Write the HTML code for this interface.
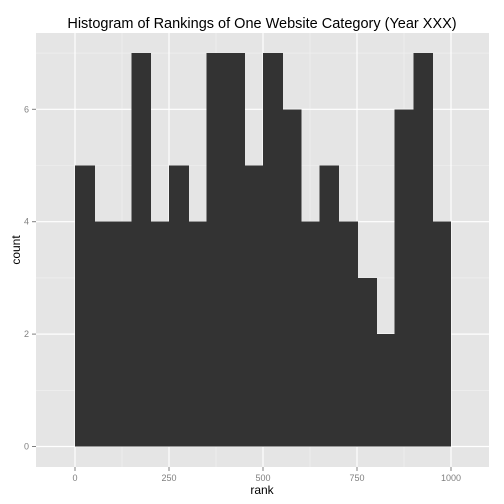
<!DOCTYPE html>
<html><head><meta charset="utf-8"><style>
body{margin:0;background:#fff;}
svg{display:block;font-family:"Liberation Sans",sans-serif;}
</style></head><body>
<svg id="c" width="504" height="504"></svg>
<script>
const binStarts=[0,50,100,150,200,250,300,350,400,450,500,550,600,650,700,750,800,850,900,950];
const counts=[5,4,4,7,4,5,4,7,7,5,7,6,4,5,4,3,2,6,7,4];
const binWidth=50;
const xTicks=[0,250,500,750,1000];
const yTicks=[0,2,4,6];
const P={l:36,r:489,t:33,b:467};
const xs=v=>75+v*0.376;
const ys=v=>446.5-v*56.2;
const svg=document.getElementById('c');
const NS='http://www.w3.org/2000/svg';
function mk(t,a,p){const e=document.createElementNS(NS,t);for(const k in a)e.setAttribute(k,a[k]);(p||svg).appendChild(e);return e;}
let e=mk('rect',{x:P.l,y:P.t,width:P.r-P.l,height:P.b-P.t,fill:'#e5e5e5'});


for(let i=0;i<xTicks.length-1;i++){const m=(xTicks[i]+xTicks[i+1])/2;e=mk('line',{x1:xs(m),x2:xs(m),y1:P.t,y2:P.b,stroke:'#f2f2f2','stroke-width':0.6});}
for(let i=0;i<yTicks.length;i++){const m=yTicks[i]+1;e=mk('line',{x1:P.l,x2:P.r,y1:ys(m),y2:ys(m),stroke:'#f2f2f2','stroke-width':0.6});}
xTicks.forEach(t=>{e=mk('line',{x1:xs(t),x2:xs(t),y1:P.t,y2:P.b,stroke:'#fff','stroke-width':1.2});
e=mk('line',{x1:xs(t),x2:xs(t),y1:P.b,y2:P.b+4,stroke:'#7f7f7f'});
e=mk('text',{x:xs(t),y:P.b+14,'text-anchor':'middle','font-size':9,fill:'#7f7f7f'});e.textContent=t;});
yTicks.forEach(t=>{e=mk('line',{x1:P.l,x2:P.r,y1:ys(t),y2:ys(t),stroke:'#fff','stroke-width':1.2});
e=mk('line',{x1:P.l-4,x2:P.l,y1:ys(t),y2:ys(t),stroke:'#7f7f7f'});
e=mk('text',{x:P.l-7,y:ys(t)+3,'text-anchor':'end','font-size':9,fill:'#7f7f7f'});e.textContent=t;});
binStarts.forEach((b,i)=>{const last=i===binStarts.length-1;e=mk('rect',{x:xs(b),y:ys(counts[i]),width:xs(b+binWidth)-xs(b)+(last?0:1),height:ys(0)-ys(counts[i]),fill:'#333333','shape-rendering':'crispEdges'});});
e=mk('text',{x:262,y:28,'text-anchor':'middle','font-size':14.5,fill:'#000'});e.textContent='Histogram of Rankings of One Website Category (Year XXX)';
e=mk('text',{x:262,y:494,'text-anchor':'middle','font-size':12,fill:'#000'});e.textContent='rank';
e=mk('text',{x:0,y:0,'text-anchor':'middle','font-size':12,fill:'#000',transform:'translate(20,250) rotate(-90)'});e.textContent='count';
</script>
</body></html>
